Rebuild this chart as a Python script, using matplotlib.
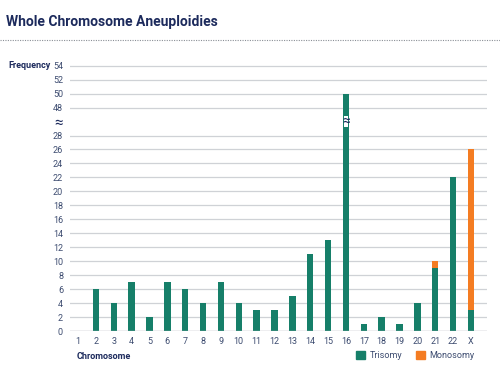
import matplotlib

matplotlib.use("Agg")
import matplotlib.pyplot as plt
from matplotlib.lines import Line2D
from matplotlib.patches import Patch

chromosomes = [str(i) for i in range(1, 23)] + ["X"]
trisomy = [0, 6, 4, 7, 2, 7, 6, 4, 7, 4, 3, 3, 5, 11, 13, 50, 1, 2, 1, 4, 9, 22, 3]
monosomy = [0, 0, 0, 0, 0, 0, 0, 0, 0, 0, 0, 0, 0, 0, 0, 0, 0, 0, 0, 0, 1, 0, 23]
low_ticks = list(range(0, 30, 2))
high_ticks = [48, 50, 52, 54]

GREEN = "#167f69"
ORANGE = "#f47c22"
NAVY = "#1c2a5c"
TICK = "#3d4c70"
GRID = "#cfd2d6"

plt.rcParams["font.family"] = ["Roboto", "DejaVu Sans"]


def to_axis(v):
    # broken axis: 0..28 then jump to 48..54
    return v / 2 if v <= 28 else (v - 48) / 2 + 16


BREAK_POS = 15

fig = plt.figure(figsize=(5.0, 3.66), dpi=100)
ax = fig.add_axes([0.14, 0.0956, 0.834, 0.7268])

x = list(range(1, len(chromosomes) + 1))
tri_h = [to_axis(t) for t in trisomy]
mono_bottom = tri_h
mono_h = [to_axis(t + m) - to_axis(t) for t, m in zip(trisomy, monosomy)]

ax.bar(x, tri_h, width=0.36, color=GREEN, zorder=3)
ax.bar(x, mono_h, bottom=mono_bottom, width=0.36, color=ORANGE, zorder=3)

yticks = [to_axis(v) for v in low_ticks] + [BREAK_POS] + [to_axis(v) for v in high_ticks]
ylabels = [str(v) for v in low_ticks] + ["≈"] + [str(v) for v in high_ticks]
ax.set_yticks(yticks)
ax.set_yticklabels(ylabels)
ax.set_ylim(0, 19.05)
ax.set_xlim(0.55, 23.9)
ax.set_xticks(x)
ax.set_xticklabels(chromosomes)

for y in [to_axis(v) for v in low_ticks[1:]] + [to_axis(v) for v in high_ticks]:
    ax.axhline(y, color=GRID, lw=0.9, zorder=1)
ax.axhline(0, color="#a9adb3", lw=1.0, zorder=4)

ax.tick_params(length=0, labelsize=6.5, labelcolor=TICK)
ax.tick_params(axis="y", pad=5)
ax.tick_params(axis="x", pad=4)
for lab in ax.get_yticklabels():
    if lab.get_text() == "≈":
        lab.set_fontsize(11)
        lab.set_color(NAVY)
for s in ax.spines.values():
    s.set_visible(False)

# break mark on the tall bar
i16 = chromosomes.index("16")
ax.text(x[i16], BREAK_POS, "≈", ha="center", va="center", fontsize=10,
        color=NAVY, zorder=5,
        bbox=dict(boxstyle="square,pad=-0.12", facecolor="white", edgecolor="none"))

fig.text(0.012, 0.94, "Whole Chromosome Aneuploidies", fontsize=10,
         fontweight="bold", color=NAVY, va="center", ha="left")
fig.add_artist(Line2D([0, 1], [0.89, 0.89], transform=fig.transFigure,
                      color="#8a8f96", lw=0.8, linestyle=(0, (1, 1.2))))
fig.text(0.016, 0.82, "Frequency", fontsize=6.5, fontweight="bold",
         color=NAVY, va="center", ha="left")
fig.text(0.154, 0.025, "Chromosome", fontsize=6.5, fontweight="bold",
         color=NAVY, va="center", ha="left")

handles = [Patch(color=GREEN, label="Trisomy"), Patch(color=ORANGE, label="Monosomy")]
fig.legend(handles=handles, loc="center right", bbox_to_anchor=(0.965, 0.028),
           ncol=2, frameon=False, fontsize=6.5, handlelength=1.0, handleheight=1.0,
           handletextpad=0.5, columnspacing=1.5, labelcolor=TICK)

fig.savefig("out.png", dpi=100, facecolor="white")
